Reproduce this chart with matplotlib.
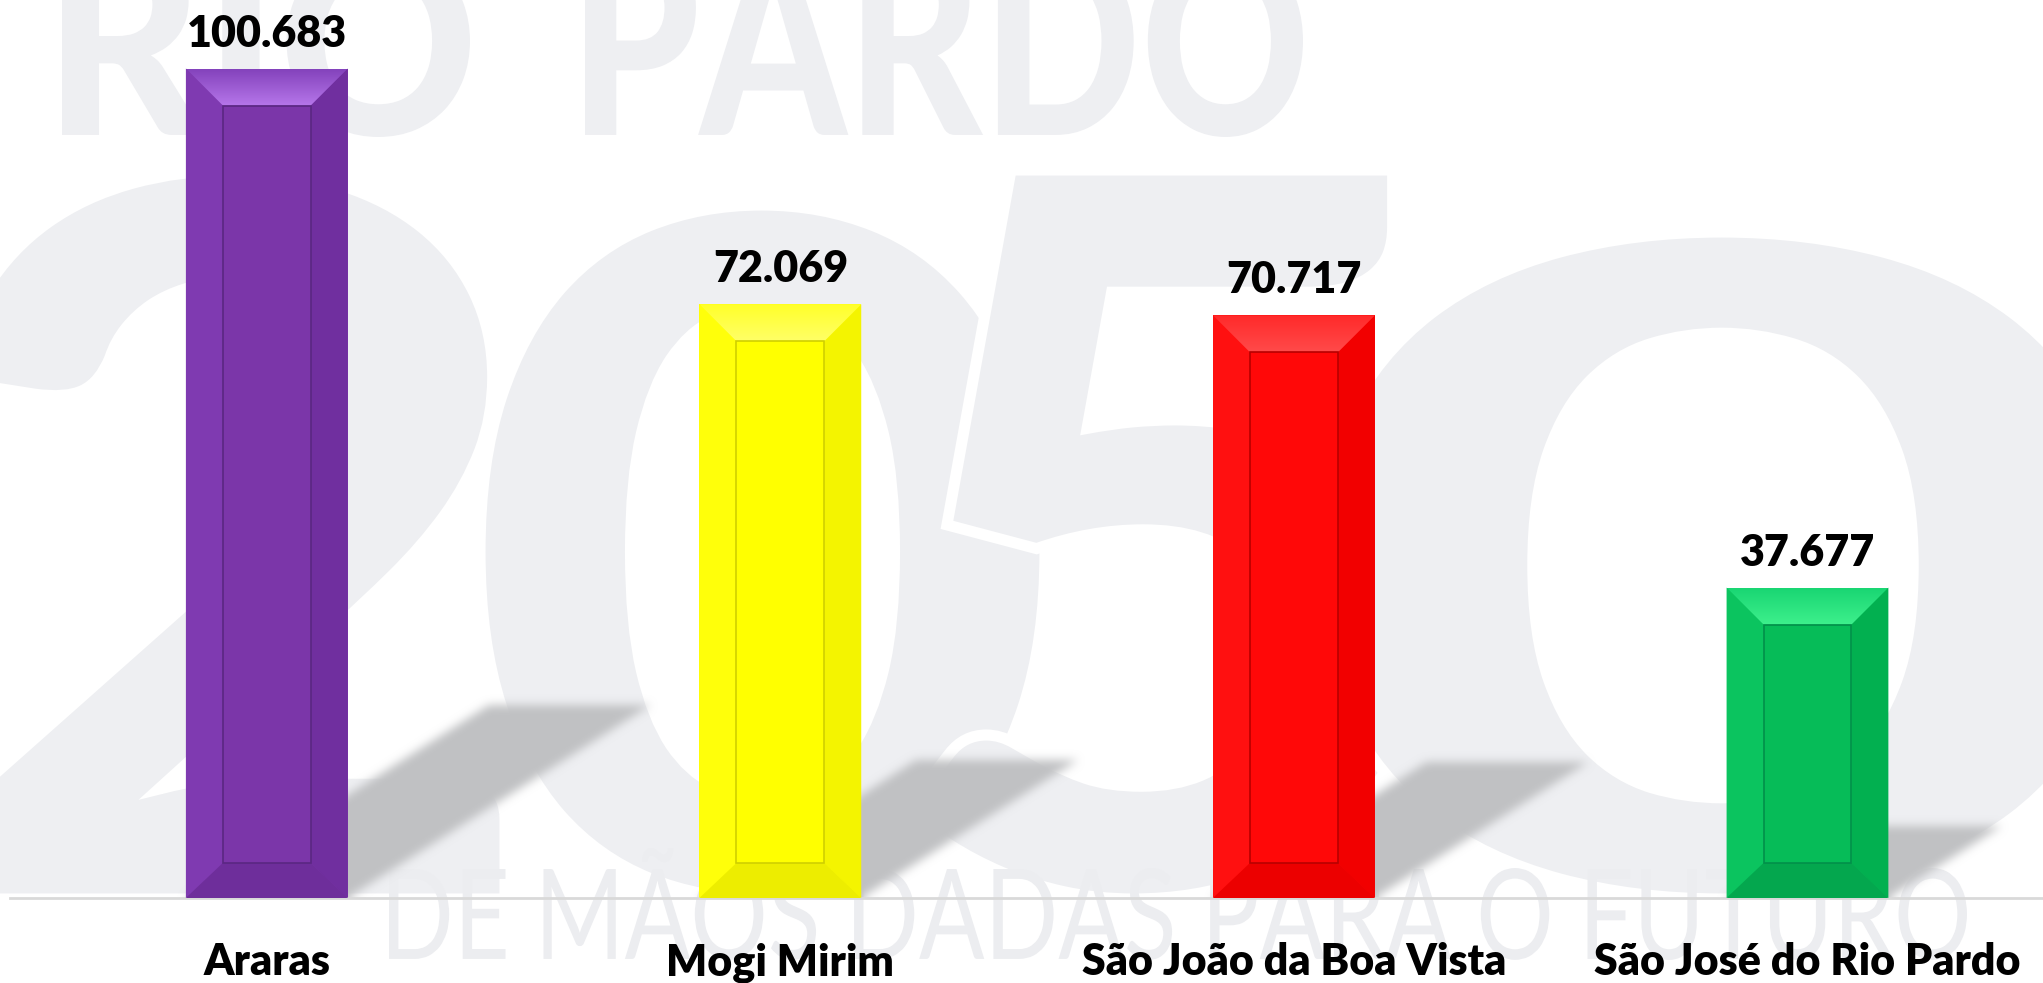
import numpy as np
import matplotlib
matplotlib.use('Agg')
import matplotlib.pyplot as plt
from matplotlib.patches import Polygon, PathPatch
from matplotlib.textpath import TextPath
from matplotlib.font_manager import FontProperties
from matplotlib.transforms import Affine2D

# populacao por municipio
cidades = ['Araras', 'Mogi Mirim', 'São João da Boa Vista', 'São José do Rio Pardo']
populacao = [100683, 72069, 70717, 37677]

# cores de cada barra: frente, lado esq, lado dir, topo (fora/dentro), base, aresta
cor_frente = ['#7B36A9', '#FFFF00', '#FF0808', '#06BC58']
cor_esq = ['#7F3AB1', '#FFFF0A', '#FF1010', '#0BC45F']
cor_dir = ['#702F9F', '#F4F400', '#F20000', '#02B050']
cor_topo_fora = ['#8443BC', '#FFFF2A', '#FF2A2A', '#1AD673']
cor_topo_dentro = ['#B676EA', '#FFFF66', '#FF4A4A', '#3DF08C']
cor_base = ['#6E2E9B', '#EDED00', '#EC0000', '#04A74E']
cor_aresta = ['#5A2782', '#CFCF00', '#B80000', '#02904A']

W, H, DPI = 2043, 983, 100
fig = plt.figure(figsize=(W / DPI, H / DPI), dpi=DPI)

# marca d'agua ao fundo
bg = fig.add_axes([0, 0, 1, 1])
bg.set_xlim(0, W)
bg.set_ylim(H, 0)
bg.axis('off')


def glifo(texto, caixa, peso, cor='#EEEFF2', borda=0):
    x0, y0, x1, y1 = caixa
    tp = TextPath((0, 0), texto, size=100, prop=FontProperties(family='Lato', weight=peso))
    e = tp.get_extents()
    tr = Affine2D().translate(-e.x0, -e.y0).scale((x1 - x0) / e.width, -(y1 - y0) / e.height).translate(x0, y1)
    bg.add_patch(PathPatch(tr.transform_path(tp), fc=cor, ec='white' if borda else 'none', lw=borda))


glifo('RIO', (62, -55, 470, 137), 'black')
glifo('PARDO', (585, -55, 1303, 137), 'black')
glifo('2', (-60, 170, 505, 899), 'black', borda=8)
glifo('0', (480, 205, 1045, 899), 'black', borda=8)
glifo('5', (905, 170, 1420, 899), 'black', borda=8)
glifo('0', (1316, 232, 2130, 899), 'black', borda=8)
glifo('DE MÃOS DADAS PARA O FUTURO', (389, 848, 1967, 960), 'normal', cor='#ECEDF0')

ax = fig.add_axes([10 / W, 85 / H, (W - 10) / W, 898 / H])
ax.set_facecolor('none')
xlim = (-0.5, 3.4586)
ylim = (0, 109000)
ax.set_xlim(*xlim)
ax.set_ylim(*ylim)

x = np.arange(len(cidades))
larg = 0.315

# sombra projetada atras das barras (desfocada)
bb = ax.bbox
nw, nh = int(round(bb.width)), int(round(bb.height))
px = np.arange(nw) + 0.5
py = np.arange(nh) + 0.5
gx, gy = np.meshgrid(px, py)
alt = nh - gy  # altura acima da base em pixels
mask = np.zeros((nh, nw))
for xi, v in zip(x, populacao):
    (l, b0), (r, t0) = ax.transData.transform([(xi - larg / 2, 0), (xi + larg / 2, v)])
    l -= bb.x0
    r -= bb.x0
    hs = 0.233 * (t0 - b0)
    dentro = (alt <= hs) & (gx >= l + 1.57 * alt) & (gx <= r + 1.57 * alt)
    mask[dentro] = 1.0


def desfoca(a, r):
    k = 2 * r + 1
    for eixo in (0, 1):
        pad = [(0, 0), (0, 0)]
        pad[eixo] = (r + 1, r)
        c = np.cumsum(np.pad(a, pad, mode='edge'), axis=eixo)
        if eixo == 0:
            a = (c[k:, :] - c[:-k, :]) / k
        else:
            a = (c[:, k:] - c[:, :-k]) / k
    return a


for _ in range(3):
    mask = desfoca(mask, 4)
sombra = np.zeros((nh, nw, 4))
sombra[..., :3] = np.array([0.755, 0.758, 0.765])
sombra[..., 3] = np.clip(mask, 0, 1)
ax.imshow(sombra, extent=(*xlim, *ylim), origin='upper', aspect='auto', zorder=0.5, interpolation='bilinear')

# barras com chanfro
bx = 37 / 513.6
bt = 37 * ylim[1] / 898
bb_ = 35 * ylim[1] / 898
ax.bar(x, populacao, width=larg, color=cor_frente, zorder=2)
for i, (xi, v) in enumerate(zip(x, populacao)):
    L, R = xi - larg / 2, xi + larg / 2
    ax.add_patch(Polygon([(L, 0), (L, v), (L + bx, v - bt), (L + bx, bb_)], closed=True,
                         fc=cor_esq[i], ec='none', zorder=3))
    ax.add_patch(Polygon([(R, 0), (R, v), (R - bx, v - bt), (R - bx, bb_)], closed=True,
                         fc=cor_dir[i], ec='none', zorder=3))
    ax.add_patch(Polygon([(L, 0), (R, 0), (R - bx, bb_), (L + bx, bb_)], closed=True,
                         fc=cor_base[i], ec='none', zorder=3))
    topo = Polygon([(L, v), (R, v), (R - bx, v - bt), (L + bx, v - bt)], closed=True,
                   fc='none', ec='none', zorder=3)
    ax.add_patch(topo)
    c0 = np.array(matplotlib.colors.to_rgb(cor_topo_dentro[i]))
    c1 = np.array(matplotlib.colors.to_rgb(cor_topo_fora[i]))
    t = np.linspace(0, 1, 32)[:, None]
    grad = (c0 * (1 - t) + c1 * t)[:, None, :]
    im = ax.imshow(grad, extent=(L, R, v - bt, v), origin='lower', aspect='auto', zorder=3,
                   interpolation='bilinear')
    im.set_clip_path(topo)
    ax.add_patch(Polygon([(L + bx, bb_), (R - bx, bb_), (R - bx, v - bt), (L + bx, v - bt)], closed=True,
                         fc=cor_frente[i], ec=cor_aresta[i], lw=1.2, zorder=4))

    ax.annotate(f'{v:,}'.replace(',', '.'), (xi, v), xytext=(0, 15.8), textcoords='offset points',
                ha='center', va='baseline', fontsize=31, fontweight='heavy', family='Lato', color='black')
    ax.annotate(cidades[i], (xi, 0), xytext=(0, -55.5), textcoords='offset points',
                ha='center', va='baseline', fontsize=31, fontweight='heavy', family='Lato',
                color='black', annotation_clip=False)

ax.set_xlim(*xlim)
ax.set_ylim(*ylim)
ax.set_xticks([])
ax.set_yticks([])
for s in ['top', 'right', 'left']:
    ax.spines[s].set_visible(False)
ax.spines['bottom'].set_color('#D9D9D9')
ax.spines['bottom'].set_linewidth(2)

fig.savefig('out.png', dpi=DPI)
